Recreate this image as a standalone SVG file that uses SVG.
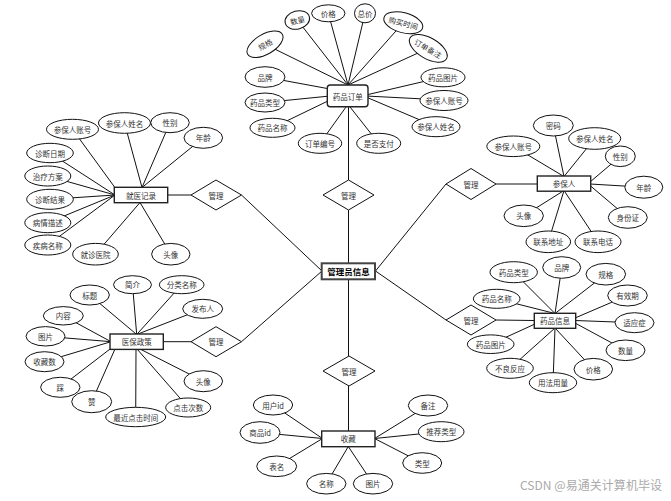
<svg xmlns="http://www.w3.org/2000/svg" width="671" height="501" viewBox="0 0 671 501">
<style>
.bg{fill:#fff}
.c line,.c polyline{stroke:#111;stroke-width:1;fill:none}
.a ellipse{fill:#fff;stroke:#111;stroke-width:1}
.e rect{fill:#fff;stroke:#222;stroke-width:1.4}
.r polygon{fill:#fff;stroke:#111;stroke-width:1}
text{font-family:"Noto Sans CJK SC","Noto Sans",sans-serif;font-size:7.5px;fill:#333;text-anchor:middle;dominant-baseline:central}
.m text{font-size:8.5px;fill:#000;font-weight:bold}
.wm{font-size:12px;fill:#aaa;text-anchor:start;font-weight:normal}
</style>
<rect class="bg" x="0" y="0" width="671" height="501"/>

<g id="connectors" class="c">
  <!-- main structure -->
  <line x1="348.5" y1="107" x2="348.5" y2="180"/>
  <line x1="348.5" y1="210" x2="348.5" y2="263"/>
  <line x1="168" y1="195" x2="191" y2="195"/>
  <line x1="241.5" y1="195" x2="322" y2="271"/>
  <line x1="163" y1="341.7" x2="191" y2="341.7"/>
  <line x1="241.5" y1="341.7" x2="322" y2="271"/>
  <line x1="446" y1="184" x2="375.5" y2="271"/>
  <line x1="496" y1="184" x2="537" y2="184"/>
  <line x1="446" y1="320" x2="375.5" y2="271"/>
  <line x1="496" y1="320" x2="534" y2="320.5"/>
  <line x1="348.5" y1="279" x2="348.5" y2="356"/>
  <line x1="348.5" y1="386" x2="348.5" y2="431"/>
  <!-- 药品订单 -->
  <line x1="265" y1="44.3" x2="348" y2="85"/>
  <line x1="297.3" y1="20" x2="348" y2="85"/>
  <line x1="328.3" y1="13.3" x2="348" y2="85"/>
  <line x1="365" y1="13.3" x2="348" y2="85"/>
  <line x1="403.3" y1="22.7" x2="348" y2="85"/>
  <line x1="428.3" y1="48.3" x2="348" y2="85"/>
  <line x1="265" y1="77" x2="330" y2="89"/>
  <line x1="265" y1="102.5" x2="330" y2="96"/>
  <line x1="272.5" y1="127.8" x2="330" y2="100"/>
  <line x1="320" y1="143.3" x2="346" y2="107"/>
  <line x1="378.7" y1="143.3" x2="350" y2="107"/>
  <line x1="441.7" y1="77.3" x2="366" y2="95"/>
  <line x1="444" y1="100" x2="366" y2="96"/>
  <line x1="435.8" y1="126.7" x2="366" y2="97"/>
  <!-- 就医记录 -->
  <line x1="72.5" y1="129.3" x2="116" y2="189"/>
  <line x1="124.5" y1="123" x2="142" y2="187.5"/>
  <line x1="170" y1="122.7" x2="142" y2="187.5"/>
  <line x1="203.3" y1="137.8" x2="142" y2="187.5"/>
  <line x1="50" y1="153" x2="115" y2="195"/>
  <line x1="47.8" y1="176" x2="115" y2="195"/>
  <line x1="50" y1="199.3" x2="115" y2="195"/>
  <line x1="47.8" y1="222.7" x2="115" y2="195"/>
  <line x1="47.8" y1="245" x2="115" y2="195"/>
  <line x1="95.5" y1="254.2" x2="140" y2="202.5"/>
  <line x1="170.8" y1="254.2" x2="140" y2="202.5"/>
  <!-- 医保政策 -->
  <line x1="89.7" y1="295" x2="136.7" y2="334.5"/>
  <line x1="132.5" y1="284.7" x2="136.7" y2="334.5"/>
  <line x1="181.7" y1="284.7" x2="136.7" y2="334.5"/>
  <line x1="202.7" y1="308.8" x2="136.7" y2="334.5"/>
  <line x1="63.3" y1="315.8" x2="111" y2="341.7"/>
  <line x1="45.5" y1="336.3" x2="111" y2="341.7"/>
  <line x1="44.5" y1="361.7" x2="111" y2="341.7"/>
  <line x1="60.3" y1="387.3" x2="112" y2="347.5"/>
  <line x1="91.7" y1="401.7" x2="115" y2="349"/>
  <line x1="135.7" y1="417" x2="136" y2="349"/>
  <line x1="188.2" y1="407.5" x2="137" y2="349"/>
  <line x1="203.3" y1="381.2" x2="140" y2="349"/>
  <!-- 参保人 -->
  <line x1="553.3" y1="125.5" x2="564" y2="176.5"/>
  <line x1="594.7" y1="138.5" x2="564" y2="176.5"/>
  <line x1="513.3" y1="146.3" x2="564" y2="176.5"/>
  <line x1="620.3" y1="156.3" x2="590" y2="182"/>
  <line x1="643.8" y1="187.2" x2="590" y2="184"/>
  <line x1="627.8" y1="217.5" x2="590" y2="185.5"/>
  <line x1="523.7" y1="215.8" x2="564" y2="190.5"/>
  <line x1="548.3" y1="241.8" x2="564" y2="190.5"/>
  <line x1="598" y1="241.8" x2="564" y2="190.5"/>
  <!-- 药品信息 -->
  <line x1="513.7" y1="272.2" x2="555" y2="313.5"/>
  <line x1="561.7" y1="267.5" x2="555" y2="313.5"/>
  <line x1="605.8" y1="274.2" x2="555" y2="313.5"/>
  <line x1="496.7" y1="298.8" x2="555" y2="313.5"/>
  <line x1="627.5" y1="295.5" x2="575" y2="318"/>
  <line x1="634.5" y1="322.7" x2="575" y2="320.5"/>
  <line x1="625.5" y1="350.3" x2="575" y2="323"/>
  <line x1="593.3" y1="369.2" x2="555" y2="328"/>
  <line x1="553" y1="382.7" x2="555" y2="328"/>
  <line x1="510" y1="368.3" x2="555" y2="328"/>
  <line x1="490.7" y1="344.2" x2="535" y2="324"/>
  <!-- 收藏 -->
  <line x1="273" y1="405" x2="322.5" y2="438.5"/>
  <line x1="260" y1="432.5" x2="322.5" y2="438.5"/>
  <line x1="276.7" y1="466.3" x2="322.5" y2="438.5"/>
  <line x1="326.3" y1="483.7" x2="348.3" y2="446.5"/>
  <line x1="373" y1="483.7" x2="348.3" y2="446.5"/>
  <line x1="428" y1="405.5" x2="374.5" y2="438.5"/>
  <line x1="441.2" y1="431.7" x2="374.5" y2="438.5"/>
  <line x1="422.2" y1="463" x2="374.5" y2="438.5"/>
</g>

<!-- relationships -->
<g id="rel-top" class="r"><polygon points="348.5,180 374,195 348.5,210 323,195"/><text x="348.5" y="195">管理</text></g>
<g id="rel-left-top" class="r"><polygon points="216,180 241.5,195 216,210 191,195"/><text x="216" y="195">管理</text></g>
<g id="rel-left-bottom" class="r"><polygon points="216,326.7 241.5,341.7 216,356.7 191,341.7"/><text x="216" y="341.7">管理</text></g>
<g id="rel-right-top" class="r"><polygon points="471,168.5 496,184 471,199.5 446,184"/><text x="471" y="184">管理</text></g>
<g id="rel-right-bottom" class="r"><polygon points="471,305 496,320 471,335 446,320"/><text x="471" y="320">管理</text></g>
<g id="rel-bottom" class="r"><polygon points="349,356 375,371 349,386 323,371"/><text x="349" y="371">管理</text></g>

<!-- entities -->
<g id="admin" class="e m"><rect x="321.7" y="263.3" width="53.3" height="16" style="stroke:#444;stroke-width:2"/><text x="348.4" y="271.3">管理员信息</text></g>
<g id="order" class="e"><rect x="327.3" y="85" width="40.7" height="21.7" rx="3"/><text x="347.7" y="96">药品订单</text></g>
<g id="record" class="e"><rect x="114.3" y="187.3" width="53.4" height="15.4"/><text x="141" y="195">就医记录</text></g>
<g id="policy" class="e"><rect x="110" y="334" width="53.3" height="15.4"/><text x="136.7" y="341.7">医保政策</text></g>
<g id="insured" class="e"><rect x="537.3" y="176" width="53.4" height="15.2"/><text x="564" y="183.6">参保人</text></g>
<g id="drug" class="e"><rect x="534.3" y="313.3" width="41.4" height="15"/><text x="555" y="320.8">药品信息</text></g>
<g id="fav" class="e"><rect x="321.7" y="431" width="53.3" height="15.7"/><text x="348.3" y="438.9">收藏</text></g>

<!-- 药品订单 attributes -->
<g id="order-attrs" class="a">
  <g id="o-guige" transform="translate(265 44.3) rotate(-30)"><ellipse rx="20" ry="10"/><text>规格</text></g>
  <g id="o-shuliang" transform="translate(297.3 20) rotate(-15)"><ellipse rx="12.5" ry="9"/><text>数量</text></g>
  <g id="o-jiage" transform="translate(328.3 13.3)"><ellipse rx="16.7" ry="8.5"/><text>价格</text></g>
  <g id="o-zongjia" transform="translate(365 13.3)"><ellipse rx="10.5" ry="9.5"/><text>总价</text></g>
  <g id="o-time" transform="translate(403.3 22.7) rotate(15)"><ellipse rx="20" ry="10"/><text>购买时间</text></g>
  <g id="o-note" transform="translate(428.3 48.3) rotate(30)"><ellipse rx="21" ry="10.5"/><text>订单备注</text></g>
  <g id="o-brand"><ellipse cx="265" cy="77" rx="20" ry="10.3"/><text x="265" y="77">品牌</text></g>
  <g id="o-type"><ellipse cx="265" cy="102.5" rx="20" ry="9.5"/><text x="265" y="102.5">药品类型</text></g>
  <g id="o-name"><ellipse cx="272.5" cy="127.8" rx="22.5" ry="9.5"/><text x="272.5" y="127.8">药品名称</text></g>
  <g id="o-no"><ellipse cx="320" cy="143.3" rx="21.7" ry="10"/><text x="320" y="143.3">订单编号</text></g>
  <g id="o-paid"><ellipse cx="378.7" cy="143.3" rx="22" ry="10"/><text x="378.7" y="143.3">是否支付</text></g>
  <g id="o-img"><ellipse cx="443" cy="77.3" rx="22" ry="9.5"/><text x="443" y="77.3">药品图片</text></g>
  <g id="o-acc"><ellipse cx="444" cy="100.5" rx="24" ry="10"/><text x="444" y="100.5">参保人账号</text></g>
  <g id="o-pname"><ellipse cx="436" cy="126.7" rx="24" ry="10"/><text x="436" y="126.7">参保人姓名</text></g>
</g>

<!-- 就医记录 attributes -->
<g id="record-attrs" class="a">
  <g id="r-acc"><ellipse cx="72.5" cy="129.3" rx="26" ry="10"/><text x="72.5" y="129.3">参保人账号</text></g>
  <g id="r-name"><ellipse cx="124.5" cy="123" rx="26" ry="10.3"/><text x="124.5" y="123">参保人姓名</text></g>
  <g id="r-sex"><ellipse cx="170" cy="122.7" rx="19.3" ry="10"/><text x="170" y="122.7">性别</text></g>
  <g id="r-age"><ellipse cx="203.3" cy="137.8" rx="19.3" ry="10.5"/><text x="203.3" y="137.8">年龄</text></g>
  <g id="r-date"><ellipse cx="50" cy="153" rx="23.3" ry="9.7"/><text x="50" y="153">诊断日期</text></g>
  <g id="r-plan"><ellipse cx="47.8" cy="176" rx="23" ry="10"/><text x="47.8" y="176">治疗方案</text></g>
  <g id="r-result"><ellipse cx="50" cy="199.3" rx="23.3" ry="10"/><text x="50" y="199.3">诊断结果</text></g>
  <g id="r-desc"><ellipse cx="47.8" cy="222.7" rx="23" ry="10"/><text x="47.8" y="222.7">病情描述</text></g>
  <g id="r-disease"><ellipse cx="47.8" cy="245" rx="23" ry="10"/><text x="47.8" y="245">疾病名称</text></g>
  <g id="r-hosp"><ellipse cx="95.5" cy="254.2" rx="22.8" ry="10.8"/><text x="95.5" y="254.2">就诊医院</text></g>
  <g id="r-avatar"><ellipse cx="170.8" cy="254.2" rx="19.2" ry="10.8"/><text x="170.8" y="254.2">头像</text></g>
</g>

<!-- 医保政策 attributes -->
<g id="policy-attrs" class="a">
  <g id="p-title"><ellipse cx="89.7" cy="295" rx="19.7" ry="10"/><text x="89.7" y="295">标题</text></g>
  <g id="p-intro"><ellipse cx="132.5" cy="284.7" rx="19" ry="9"/><text x="132.5" y="284.7">简介</text></g>
  <g id="p-cat"><ellipse cx="181.7" cy="284.7" rx="22.3" ry="9"/><text x="181.7" y="284.7">分类名称</text></g>
  <g id="p-pub"><ellipse cx="202.7" cy="308.8" rx="20" ry="9.5"/><text x="202.7" y="308.8">发布人</text></g>
  <g id="p-content"><ellipse cx="63.3" cy="315.8" rx="20" ry="9.2"/><text x="63.3" y="315.8">内容</text></g>
  <g id="p-img"><ellipse cx="45.5" cy="336.3" rx="19.5" ry="9.7"/><text x="45.5" y="336.3">图片</text></g>
  <g id="p-fav"><ellipse cx="44.5" cy="361.7" rx="19.5" ry="10"/><text x="44.5" y="361.7">收藏数</text></g>
  <g id="p-down"><ellipse cx="60.3" cy="387.3" rx="19.7" ry="10"/><text x="60.3" y="387.3">踩</text></g>
  <g id="p-up"><ellipse cx="91.7" cy="401.7" rx="20" ry="11"/><text x="91.7" y="401.7">赞</text></g>
  <g id="p-last"><ellipse cx="135.7" cy="417" rx="30" ry="9.7"/><text x="135.7" y="417">最近点击时间</text></g>
  <g id="p-clicks"><ellipse cx="188.2" cy="407.5" rx="22.5" ry="9.5"/><text x="188.2" y="407.5">点击次数</text></g>
  <g id="p-avatar"><ellipse cx="203.3" cy="381.2" rx="19.3" ry="10.5"/><text x="203.3" y="381.2">头像</text></g>
</g>

<!-- 参保人 attributes -->
<g id="insured-attrs" class="a">
  <g id="i-pwd"><ellipse cx="553.3" cy="125.5" rx="20" ry="10.5"/><text x="553.3" y="125.5">密码</text></g>
  <g id="i-name"><ellipse cx="594.7" cy="138.5" rx="26" ry="10.8"/><text x="594.7" y="138.5">参保人姓名</text></g>
  <g id="i-acc"><ellipse cx="513.3" cy="146.3" rx="26.5" ry="10.3"/><text x="513.3" y="146.3">参保人账号</text></g>
  <g id="i-sex"><ellipse cx="620.3" cy="156.3" rx="15" ry="10.3"/><text x="620.3" y="156.3">性别</text></g>
  <g id="i-age"><ellipse cx="643.8" cy="187.2" rx="19" ry="11"/><text x="643.8" y="187.2">年龄</text></g>
  <g id="i-id"><ellipse cx="627.8" cy="217.5" rx="19.5" ry="10.8"/><text x="627.8" y="217.5">身份证</text></g>
  <g id="i-avatar"><ellipse cx="523.7" cy="215.8" rx="19.7" ry="10.8"/><text x="523.7" y="215.8">头像</text></g>
  <g id="i-addr"><ellipse cx="548.3" cy="241.8" rx="22.3" ry="10.8"/><text x="548.3" y="241.8">联系地址</text></g>
  <g id="i-tel"><ellipse cx="598" cy="241.8" rx="23" ry="10.8"/><text x="598" y="241.8">联系电话</text></g>
</g>

<!-- 药品信息 attributes -->
<g id="drug-attrs" class="a">
  <g id="d-type"><ellipse cx="513.7" cy="272.2" rx="23.7" ry="10.5"/><text x="513.7" y="272.2">药品类型</text></g>
  <g id="d-brand"><ellipse cx="561.7" cy="267.5" rx="19" ry="10.8"/><text x="561.7" y="267.5">品牌</text></g>
  <g id="d-spec"><ellipse cx="605.8" cy="274.2" rx="19.8" ry="10.8"/><text x="605.8" y="274.2">规格</text></g>
  <g id="d-exp"><ellipse cx="627.5" cy="295.5" rx="19.8" ry="10.5"/><text x="627.5" y="295.5">有效期</text></g>
  <g id="d-ind"><ellipse cx="634.5" cy="322.7" rx="19.5" ry="10"/><text x="634.5" y="322.7">适应症</text></g>
  <g id="d-qty"><ellipse cx="625.5" cy="350.3" rx="19.5" ry="10.3"/><text x="625.5" y="350.3">数量</text></g>
  <g id="d-price"><ellipse cx="593.3" cy="369.2" rx="19.3" ry="10.8"/><text x="593.3" y="369.2">价格</text></g>
  <g id="d-usage"><ellipse cx="553" cy="382.7" rx="23.7" ry="10"/><text x="553" y="382.7">用法用量</text></g>
  <g id="d-adverse"><ellipse cx="510" cy="368.3" rx="23.3" ry="10"/><text x="510" y="368.3">不良反应</text></g>
  <g id="d-img"><ellipse cx="490.7" cy="344.2" rx="23.3" ry="9.3"/><text x="490.7" y="344.2">药品图片</text></g>
  <g id="d-name"><ellipse cx="496.7" cy="298.8" rx="23.3" ry="9.5"/><text x="496.7" y="298.8">药品名称</text></g>
</g>

<!-- 收藏 attributes -->
<g id="fav-attrs" class="a">
  <g id="f-uid"><ellipse cx="273" cy="405" rx="19.7" ry="10"/><text x="273" y="405">用户id</text></g>
  <g id="f-gid"><ellipse cx="260" cy="432.5" rx="20" ry="10.8"/><text x="260" y="432.5">商品id</text></g>
  <g id="f-table"><ellipse cx="276.7" cy="466.3" rx="20" ry="10.3"/><text x="276.7" y="466.3">表名</text></g>
  <g id="f-name"><ellipse cx="326.3" cy="483.7" rx="19.7" ry="10.3"/><text x="326.3" y="483.7">名称</text></g>
  <g id="f-img"><ellipse cx="373" cy="483.7" rx="19.7" ry="10.3"/><text x="373" y="483.7">图片</text></g>
  <g id="f-note"><ellipse cx="428" cy="405.5" rx="19.7" ry="10.5"/><text x="428" y="405.5">备注</text></g>
  <g id="f-rec"><ellipse cx="441.2" cy="431.7" rx="22.8" ry="10"/><text x="441.2" y="431.7">推荐类型</text></g>
  <g id="f-type"><ellipse cx="422.2" cy="463" rx="19.5" ry="10.3"/><text x="422.2" y="463">类型</text></g>
</g>

<text class="wm" x="520" y="484" textLength="142" lengthAdjust="spacing">CSDN @易通关计算机毕设</text>
</svg>
